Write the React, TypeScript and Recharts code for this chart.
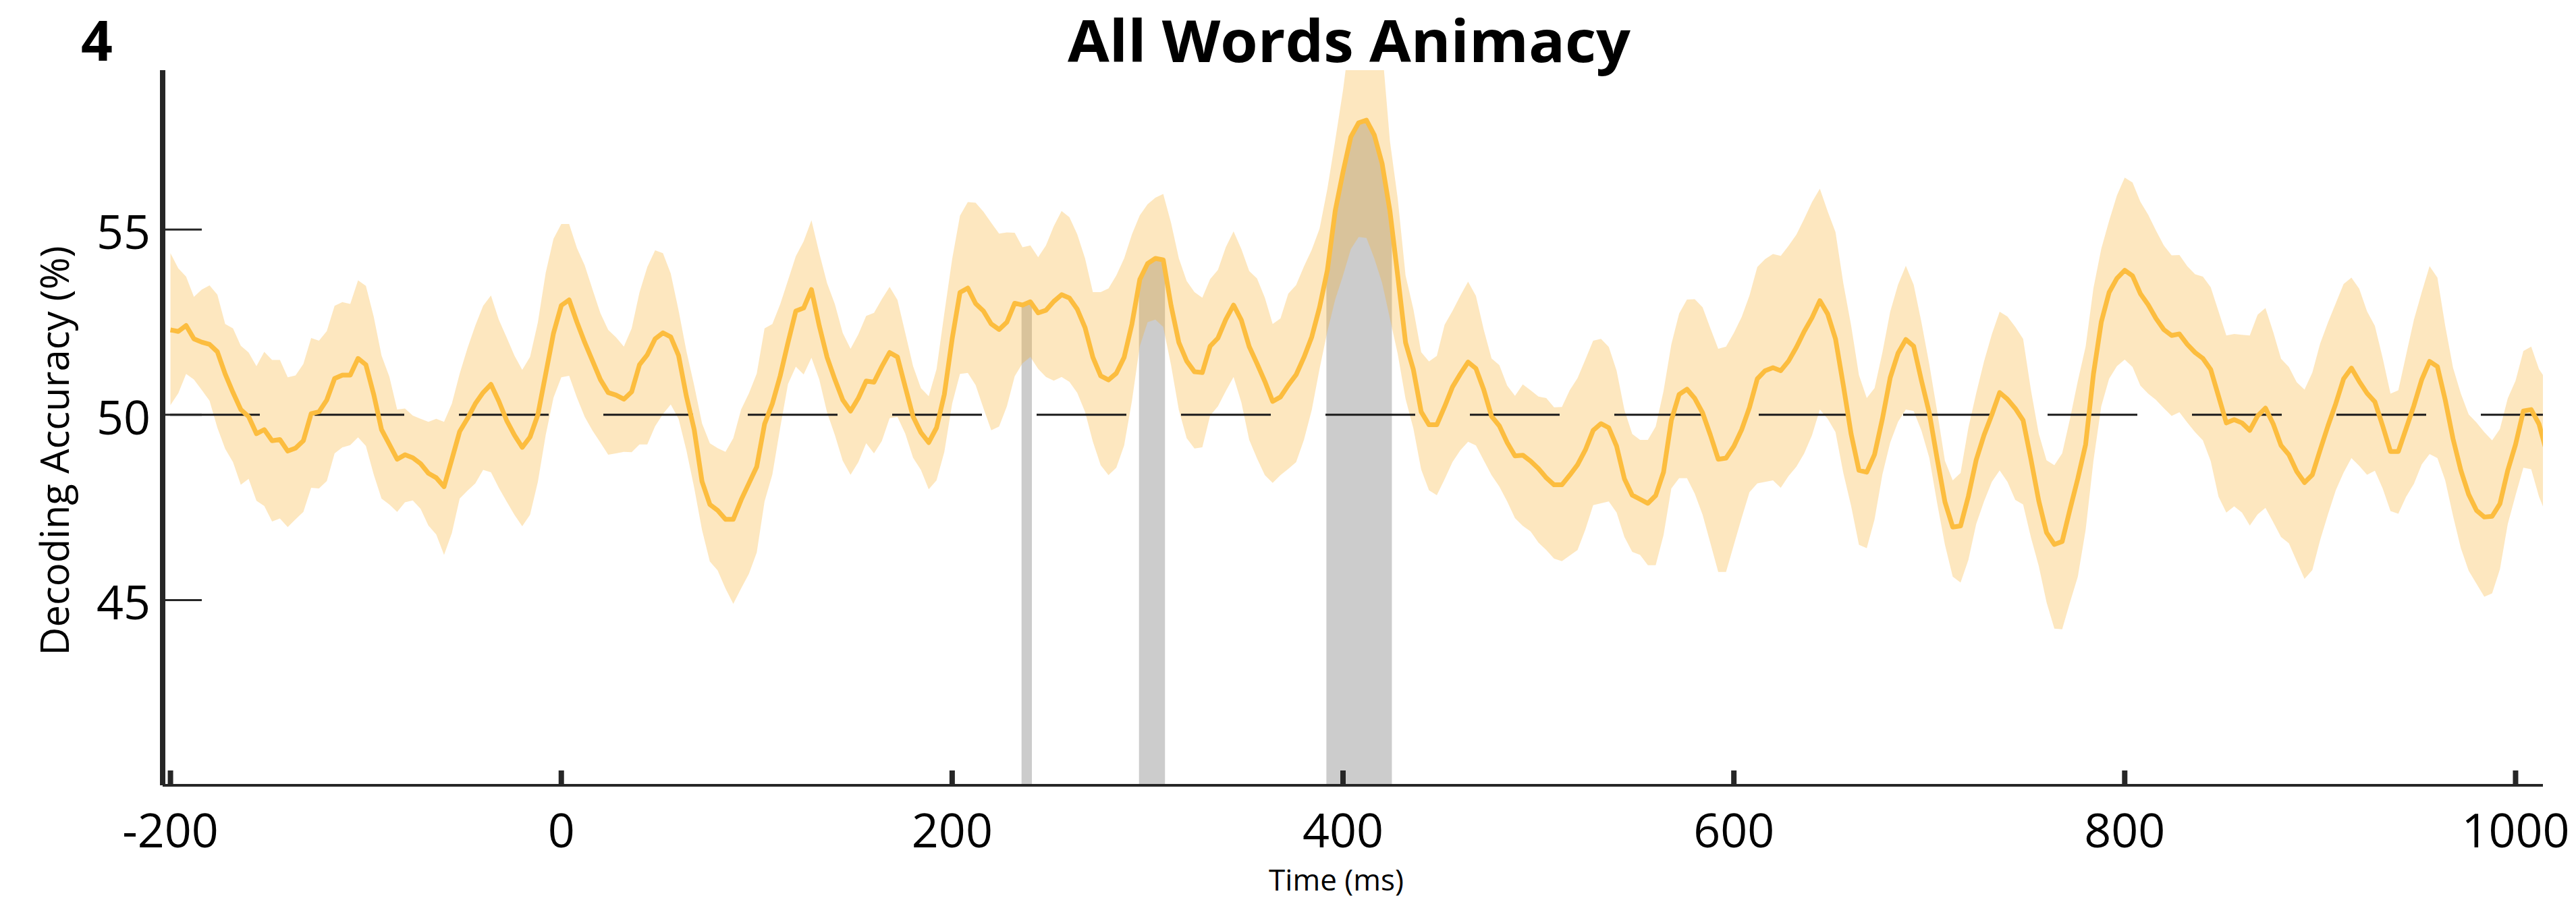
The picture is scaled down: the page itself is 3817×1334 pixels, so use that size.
import React from "react";
import { Area, ComposedChart, Line, ReferenceLine, XAxis, YAxis } from "recharts";

// samples every 4 ms, from -200 to 1016 ms
const times: number[] = Array.from({ length: 305 }, (_, i) => -200 + 4 * i);

const meanAcc = [
  52.29, 52.25, 52.41, 52.05, 51.96, 51.9, 51.7, 51.1, 50.6, 50.14,
  49.95, 49.49, 49.6, 49.3, 49.33, 49.02, 49.1, 49.3, 50.03, 50.08,
  50.4, 50.98, 51.07, 51.07, 51.52, 51.35, 50.55, 49.6, 49.2, 48.8,
  48.92, 48.84, 48.68, 48.42, 48.3, 48.06, 48.8, 49.55, 49.9, 50.3,
  50.6, 50.82, 50.37, 49.85, 49.45, 49.12, 49.4, 50.0, 51.1, 52.2,
  52.95, 53.1, 52.5, 51.95, 51.45, 50.95, 50.6, 50.53, 50.42, 50.62,
  51.35, 51.62, 52.05, 52.21, 52.1, 51.6, 50.5, 49.6, 48.2, 47.58,
  47.42, 47.18, 47.18, 47.7, 48.15, 48.6, 49.75, 50.3, 51.05, 51.95,
  52.8, 52.88, 53.38, 52.4, 51.55, 50.95, 50.4, 50.1, 50.45, 50.91,
  50.88, 51.3, 51.68, 51.56, 50.75, 49.95, 49.52, 49.25, 49.65, 50.55,
  52.05, 53.3, 53.42, 53.0, 52.8, 52.45, 52.3, 52.5, 53.01, 52.96,
  53.05, 52.75, 52.82, 53.06, 53.24, 53.15, 52.85, 52.35, 51.55, 51.05,
  50.94, 51.12, 51.55, 52.45, 53.65, 54.08, 54.22, 54.18, 52.95, 51.95,
  51.45, 51.16, 51.14, 51.85, 52.07, 52.57, 52.96, 52.55, 51.84, 51.38,
  50.9, 50.36, 50.48, 50.8, 51.08, 51.55, 52.1, 52.9, 53.9, 55.5,
  56.55, 57.5, 57.88, 57.95, 57.55, 56.78, 55.5, 53.75, 51.95, 51.22,
  50.08, 49.73, 49.73, 50.22, 50.75, 51.1, 51.42, 51.25, 50.68, 49.96,
  49.7, 49.25, 48.89, 48.91, 48.75, 48.55, 48.3, 48.11, 48.11, 48.37,
  48.65, 49.05, 49.58, 49.76, 49.65, 49.15, 48.27, 47.83, 47.72, 47.61,
  47.82, 48.45, 49.85, 50.55, 50.69, 50.44, 50.05, 49.45, 48.8, 48.83,
  49.15, 49.6, 50.2, 50.97, 51.19, 51.27, 51.19, 51.45, 51.82, 52.25,
  52.62, 53.08, 52.72, 52.05, 50.8, 49.48, 48.5, 48.45, 48.93, 49.89,
  51.0, 51.66, 52.03, 51.85, 50.92, 50.05, 48.82, 47.65, 46.97, 47.0,
  47.8, 48.78, 49.45, 50.0, 50.6, 50.42, 50.17, 49.85, 48.8, 47.68,
  46.82, 46.5, 46.58, 47.45, 48.28, 49.2, 51.1, 52.5, 53.3, 53.68,
  53.9, 53.75, 53.27, 52.97, 52.6, 52.3, 52.14, 52.18, 51.9, 51.68,
  51.52, 51.22, 50.5, 49.78, 49.87, 49.78, 49.58, 49.97, 50.18, 49.75,
  49.17, 48.92, 48.47, 48.17, 48.38, 49.05, 49.7, 50.3, 50.97, 51.26,
  50.9, 50.58, 50.35, 49.7, 49.01, 49.01, 49.63, 50.25, 50.95, 51.44,
  51.3, 50.4, 49.35, 48.5, 47.85, 47.42, 47.24, 47.26, 47.6, 48.5,
  49.2, 50.1, 50.14, 49.75, 48.97,
];

const upperCI = [
  54.36, 53.95, 53.73, 53.18, 53.38, 53.49, 53.24, 52.45, 52.33, 51.86,
  51.68, 51.31, 51.7, 51.48, 51.48, 51.01, 51.06, 51.37, 52.07, 52.0,
  52.26, 52.94, 53.04, 52.99, 53.63, 53.48, 52.65, 51.6, 51.03, 50.14,
  50.17, 49.98, 49.89, 49.81, 49.89, 49.81, 50.3, 51.11, 51.8, 52.41,
  52.94, 53.22, 52.57, 52.09, 51.6, 51.21, 51.56, 52.49, 53.83, 54.75,
  55.15, 55.15, 54.5, 54.03, 53.38, 52.74, 52.29, 52.09, 51.84, 52.33,
  53.3, 53.99, 54.44, 54.36, 53.81, 52.82, 51.72, 50.79, 49.77, 49.23,
  49.1, 49.0, 49.37, 50.14, 50.58, 51.11, 52.33, 52.45, 52.98, 53.63,
  54.28, 54.68, 55.25, 54.36, 53.55, 52.98, 52.21, 51.78, 52.17, 52.67,
  52.75, 53.12, 53.45, 53.1, 52.21, 51.31, 50.72, 50.5, 51.23, 52.74,
  54.2, 55.37, 55.74, 55.72, 55.48, 55.18, 54.89, 54.92, 54.91, 54.52,
  54.57, 54.25, 54.57, 55.09, 55.5, 55.33, 54.87, 54.22, 53.31, 53.31,
  53.41, 53.76, 54.22, 54.87, 55.38, 55.68, 55.86, 55.96, 55.18, 54.22,
  53.61, 53.31, 53.16, 53.66, 53.91, 54.52, 54.95, 54.47, 53.88, 53.68,
  53.16, 52.45, 52.6, 53.27, 53.5, 54.0, 54.45, 55.02, 56.1, 57.4,
  58.76, 60.4, 60.9, 61.1, 60.8, 59.9, 57.39, 55.83, 53.76, 52.85,
  51.69, 51.44, 51.59, 52.43, 52.8, 53.21, 53.59, 53.21, 52.3, 51.52,
  51.34, 50.79, 50.51, 50.82, 50.66, 50.49, 50.45, 50.2, 50.21, 50.66,
  50.99, 51.49, 52.0, 52.05, 51.83, 51.19, 50.13, 49.48, 49.32, 49.32,
  49.68, 50.64, 51.9, 52.73, 53.11, 53.12, 52.9, 52.33, 51.78, 51.84,
  52.21, 52.64, 53.22, 53.99, 54.2, 54.34, 54.29, 54.56, 54.86, 55.29,
  55.74, 56.1, 55.49, 54.93, 53.55, 52.41, 51.07, 50.45, 50.72, 51.68,
  52.78, 53.51, 54.02, 53.51, 52.49, 51.36, 50.1, 48.76, 48.23, 48.43,
  49.65, 50.58, 51.44, 52.17, 52.78, 52.65, 52.37, 52.05, 50.67, 49.49,
  48.77, 48.64, 48.96, 49.89, 50.91, 51.84, 53.42, 54.48, 55.23, 55.92,
  56.4, 56.27, 55.75, 55.4, 54.97, 54.57, 54.3, 54.31, 54.01, 53.79,
  53.73, 53.44, 52.79, 52.14, 52.18, 52.16, 52.14, 52.7, 52.88, 52.23,
  51.51, 51.29, 50.88, 50.68, 51.14, 51.92, 52.49, 53.01, 53.53, 53.7,
  53.4, 52.79, 52.4, 51.53, 50.57, 50.66, 51.62, 52.57, 53.31, 54.01,
  53.7, 52.4, 51.27, 50.57, 50.01, 49.79, 49.53, 49.31, 49.62, 50.44,
  50.92, 51.72, 51.84, 51.23, 50.92,
];

const lowerCI = [
  50.26, 50.58, 51.1, 50.95, 50.67, 50.38, 49.65, 49.08, 48.72, 48.11,
  48.27, 47.68, 47.54, 47.12, 47.2, 46.97, 47.18, 47.38, 48.03, 48.01,
  48.21, 48.96, 49.12, 49.18, 49.39, 49.16, 48.39, 47.74, 47.58, 47.38,
  47.64, 47.69, 47.46, 47.01, 46.77, 46.22, 46.81, 47.74, 47.95, 48.15,
  48.51, 48.45, 48.03, 47.66, 47.3, 46.99, 47.3, 48.19, 49.45, 50.46,
  51.01, 51.05, 50.46, 49.94, 49.57, 49.25, 48.92, 48.96, 49.0, 48.99,
  49.2, 49.2, 49.69, 50.02, 50.28, 49.89, 49.04, 48.03, 46.89, 46.04,
  45.8, 45.31, 44.9, 45.31, 45.71, 46.28, 47.66, 48.39, 49.65, 50.83,
  51.3, 51.09, 51.54, 50.95, 50.06, 49.45, 48.76, 48.38, 48.72, 49.23,
  48.96, 49.29, 49.91, 49.94, 49.49, 48.84, 48.51, 47.99, 48.23, 49.0,
  50.3, 51.1, 51.13, 50.8, 50.18, 49.58, 49.68, 50.23, 51.04, 51.39,
  51.56, 51.24, 51.02, 50.92, 51.02, 50.89, 50.59, 50.08, 49.27, 48.64,
  48.37, 48.57, 49.17, 50.38, 51.85, 52.5, 52.57, 52.37, 51.34, 50.13,
  49.37, 49.09, 49.12, 49.98, 50.23, 50.64, 51.02, 50.33, 49.32, 48.82,
  48.37, 48.16, 48.37, 48.54, 48.72, 49.32, 50.13, 51.24, 52.25, 53.11,
  53.76, 54.47, 54.8, 54.77, 54.22, 53.56, 52.6, 51.64, 50.43, 49.63,
  48.52, 47.96, 47.83, 48.26, 48.72, 49.04, 49.27, 49.17, 48.77, 48.37,
  48.06, 47.66, 47.21, 47.0, 46.85, 46.55, 46.35, 46.12, 46.05, 46.2,
  46.35, 46.9, 47.56, 47.61, 47.66, 47.36, 46.7, 46.3, 46.22, 45.94,
  45.94, 46.75, 48.01, 48.29, 48.29, 47.87, 47.3, 46.53, 45.76, 45.76,
  46.49, 47.22, 47.91, 48.15, 48.19, 48.23, 48.03, 48.35, 48.6, 48.96,
  49.45, 50.14, 49.89, 49.53, 48.43, 47.54, 46.49, 46.4, 47.18, 48.39,
  49.25, 49.81, 50.14, 50.1, 49.57, 48.84, 47.62, 46.49, 45.63, 45.47,
  46.08, 47.05, 47.66, 48.19, 48.5, 48.19, 47.7, 47.58, 46.69, 45.92,
  44.94, 44.23, 44.21, 44.94, 45.63, 46.89, 48.76, 50.23, 50.97, 51.31,
  51.49, 51.29, 50.79, 50.57, 50.4, 50.18, 49.97, 50.07, 49.79, 49.53,
  49.31, 48.75, 47.79, 47.36, 47.53, 47.36, 47.01, 47.31, 47.49, 47.1,
  46.7, 46.53, 46.05, 45.57, 45.81, 46.62, 47.31, 47.96, 48.44, 48.83,
  48.62, 48.38, 48.49, 48.01, 47.4, 47.33, 47.79, 48.14, 48.66, 48.94,
  48.83, 48.23, 47.27, 46.4, 45.79, 45.44, 45.09, 45.18, 45.83, 47.05,
  47.83, 48.57, 48.53, 47.79, 47.27,
];

// significant clusters (grey), null breaks the area between clusters
const sigTimes = [
  235.5, 238, 240.8, 270,
  295.6, 300, 304, 308, 308.9, 350,
  391.5, 392, 396, 400, 404, 408, 412, 416, 420, 424, 425,
];
const sigAcc = [
  52.97, 53.0, 53.02, null,
  53.6, 54.08, 54.22, 54.18, 54.05, null,
  53.8, 53.9, 55.5, 56.55, 57.5, 57.88, 57.95, 57.55, 56.78, 55.5, 55.1,
];

const xTicks = [-200, 0, 200, 400, 600, 800, 1000];
const yTicks = [45, 50, 55];
const chance = 50;

const rows = times.map((t, i) => ({
  t,
  mean: meanAcc[i],
  band: [lowerCI[i], upperCI[i]],
}));
const sigRows = sigTimes.map((t, i) => ({ t, sig: sigAcc[i] }));

const FONT = "'Open Sans', sans-serif";
const AXIS = "#262626";

function XTick(props: any) {
  const { x, y, payload } = props;
  return (
    <g>
      <line x1={x} x2={x} y1={y} y2={y - 22} stroke={AXIS} strokeWidth={8} />
      <text x={x} y={y + 92} textAnchor="middle" fontFamily={FONT} fontSize={70} fill="#000">
        {payload.value}
      </text>
    </g>
  );
}

function YTick(props: any) {
  const { x, y, payload } = props;
  return (
    <g>
      <line x1={x} x2={x + 58} y1={y} y2={y} stroke={AXIS} strokeWidth={3} />
      <text x={x - 18} y={y + 29} textAnchor="end" fontFamily={FONT} fontSize={70} fill="#000">
        {payload.value}
      </text>
    </g>
  );
}

export default function App() {
  return (
    <div style={{ position: "absolute", left: 0, top: 0, width: 3817, height: 1334, background: "#fff" }}>
      <ComposedChart
        width={3817}
        height={1334}
        data={rows}
        margin={{ top: 104, right: 49, bottom: 169, left: 240 }}
      >
        <XAxis
          dataKey="t"
          type="number"
          domain={[-204, 1014]}
          ticks={xTicks}
          interval={0}
          allowDataOverflow
          height={1}
          axisLine={{ stroke: AXIS, strokeWidth: 4 }}
          tickLine={false}
          tickSize={0}
          tickMargin={0}
          tick={<XTick />}
        />
        <YAxis
          type="number"
          domain={[40, 59.3]}
          ticks={yTicks}
          interval={0}
          allowDataOverflow
          width={1}
          axisLine={{ stroke: AXIS, strokeWidth: 8 }}
          tickLine={false}
          tickSize={0}
          tickMargin={0}
          tick={<YTick />}
        />
        <Area
          data={sigRows}
          dataKey="sig"
          type="linear"
          baseValue="dataMin"
          stroke="none"
          fill="#cccccc"
          fillOpacity={1}
          connectNulls={false}
          isAnimationActive={false}
        />
        <Area
          dataKey="band"
          type="linear"
          stroke="none"
          fill="#f8af2a"
          fillOpacity={0.3}
          isAnimationActive={false}
        />
        <ReferenceLine
          y={chance}
          stroke="#1a1a1a"
          strokeWidth={3}
          strokeDasharray="133 81"
          strokeDashoffset={203}
        />
        <Line
          dataKey="mean"
          type="linear"
          stroke="#fcbd3f"
          strokeWidth={7}
          strokeLinejoin="round"
          dot={false}
          activeDot={false}
          isAnimationActive={false}
        />
      </ComposedChart>
      <svg
        width={3817}
        height={1334}
        style={{ position: "absolute", left: 0, top: 0, pointerEvents: "none" }}
      >
        <text x={120} y={90} fontFamily={FONT} fontWeight={700} fontSize={82} fill="#000">
          4
        </text>
        <text
          x={1999}
          y={92}
          textAnchor="middle"
          fontFamily={FONT}
          fontWeight={700}
          fontSize={86}
          textLength={834}
          lengthAdjust="spacingAndGlyphs"
          fill="#000"
        >
          All Words Animacy
        </text>
        <text
          transform="translate(102,668) rotate(-90)"
          textAnchor="middle"
          fontFamily={FONT}
          fontSize={58}
          fill="#000"
        >
          Decoding Accuracy (%)
        </text>
        <text x={1980} y={1320} textAnchor="middle" fontFamily={FONT} fontSize={44} fill="#000">
          Time (ms)
        </text>
      </svg>
    </div>
  );
}
